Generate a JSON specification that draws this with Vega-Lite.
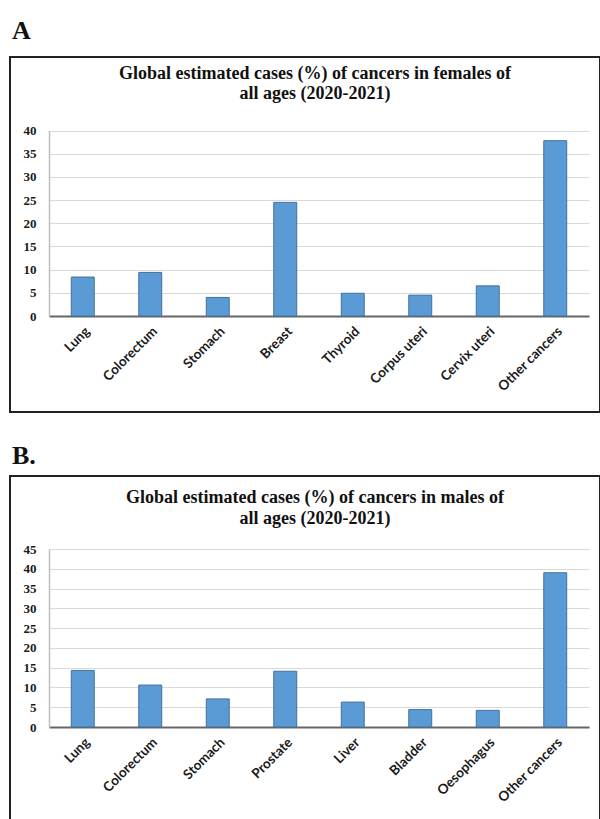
{
  "$schema": "https://vega.github.io/schema/vega-lite/v6.json",
  "padding": {"left": 9, "top": 18, "right": 0, "bottom": 0},
  "background": "white",
  "datasets": {
    "female": [
      {"cancer": "Lung", "pct": 8.4},
      {"cancer": "Colorectum", "pct": 9.4},
      {"cancer": "Stomach", "pct": 4.0},
      {"cancer": "Breast", "pct": 24.5},
      {"cancer": "Thyroid", "pct": 4.9},
      {"cancer": "Corpus uteri", "pct": 4.5},
      {"cancer": "Cervix uteri", "pct": 6.5},
      {"cancer": "Other cancers", "pct": 37.8}
    ],
    "male": [
      {"cancer": "Lung", "pct": 14.3},
      {"cancer": "Colorectum", "pct": 10.6},
      {"cancer": "Stomach", "pct": 7.1},
      {"cancer": "Prostate", "pct": 14.1},
      {"cancer": "Liver", "pct": 6.3},
      {"cancer": "Bladder", "pct": 4.4},
      {"cancer": "Oesophagus", "pct": 4.2},
      {"cancer": "Other cancers", "pct": 39.0}
    ]
  },
  "config": {
    "view": {"stroke": "#222222", "strokeWidth": 2},
    "title": {"font": "Liberation Serif", "fontWeight": "bold", "color": "#111111"},
    "axis": {
      "ticks": false,
      "title": null,
      "gridColor": "#d9d9d9",
      "gridWidth": 1
    },
    "axisX": {
      "labelFont": "Lato",
      "labelFontWeight": "bold",
      "labelFontSize": 13.5,
      "labelColor": "#1a1a1a",
      "labelAngle": -45,
      "labelPadding": 8,
      "domainColor": "#666666",
      "domainWidth": 2,
      "grid": false
    },
    "axisY": {
      "labelFont": "Liberation Serif",
      "labelFontWeight": "bold",
      "labelFontSize": 13,
      "labelColor": "#1a1a1a",
      "labelPadding": 13,
      "domainColor": "#bfbfbf",
      "domainWidth": 1.5,
      "grid": true
    },
    "concat": {"spacing": 30}
  },
  "vconcat": [
    {
      "title": {"text": "A", "font": "Liberation Serif", "fontSize": 26, "anchor": "start", "frame": "group", "offset": 12, "dx": 2},
      "vconcat": [
        {
          "width": 590,
          "height": 355,
          "title": {"text": ["Global estimated cases (%) of cancers in females of", "all ages (2020-2021)"], "font": "Liberation Serif", "fontWeight": "bold", "fontSize": 18, "lineHeight": 20, "offset": -46, "dx": 10, "anchor": "middle"},
          "data": {"name": "female"},
          "mark": {"type": "bar", "color": "#5b9bd5", "stroke": "#41719c", "strokeWidth": 1},
          "encoding": {
            "x": {
              "field": "cancer", "type": "nominal", "sort": null,
              "scale": {"range": [39, 579], "paddingInner": 0.66, "paddingOuter": 0.33},
              "axis": {"offset": -96}
            },
            "y": {
              "field": "pct", "type": "quantitative",
              "scale": {"domain": [0, 40], "range": [259, 73.5], "nice": false},
              "axis": {"offset": -39, "values": [0, 5, 10, 15, 20, 25, 30, 35, 40]}
            }
          }
        }
      ]
    },
    {
      "title": {"text": "B.", "font": "Liberation Serif", "fontSize": 26, "anchor": "start", "frame": "group", "offset": 6, "dx": 2},
      "vconcat": [
        {
          "width": 590,
          "height": 355,
          "title": {"text": ["Global estimated cases (%) of cancers in males of", "all ages (2020-2021)"], "font": "Liberation Serif", "fontWeight": "bold", "fontSize": 18, "lineHeight": 21, "offset": -52, "dx": 10, "anchor": "middle"},
          "data": {"name": "male"},
          "mark": {"type": "bar", "color": "#5b9bd5", "stroke": "#41719c", "strokeWidth": 1},
          "encoding": {
            "x": {
              "field": "cancer", "type": "nominal", "sort": null,
              "scale": {"range": [39, 579], "paddingInner": 0.66, "paddingOuter": 0.33},
              "axis": {"offset": -104}
            },
            "y": {
              "field": "pct", "type": "quantitative",
              "scale": {"domain": [0, 45], "range": [251, 73], "nice": false},
              "axis": {"offset": -39, "values": [0, 5, 10, 15, 20, 25, 30, 35, 40, 45]}
            }
          }
        }
      ]
    }
  ]
}
